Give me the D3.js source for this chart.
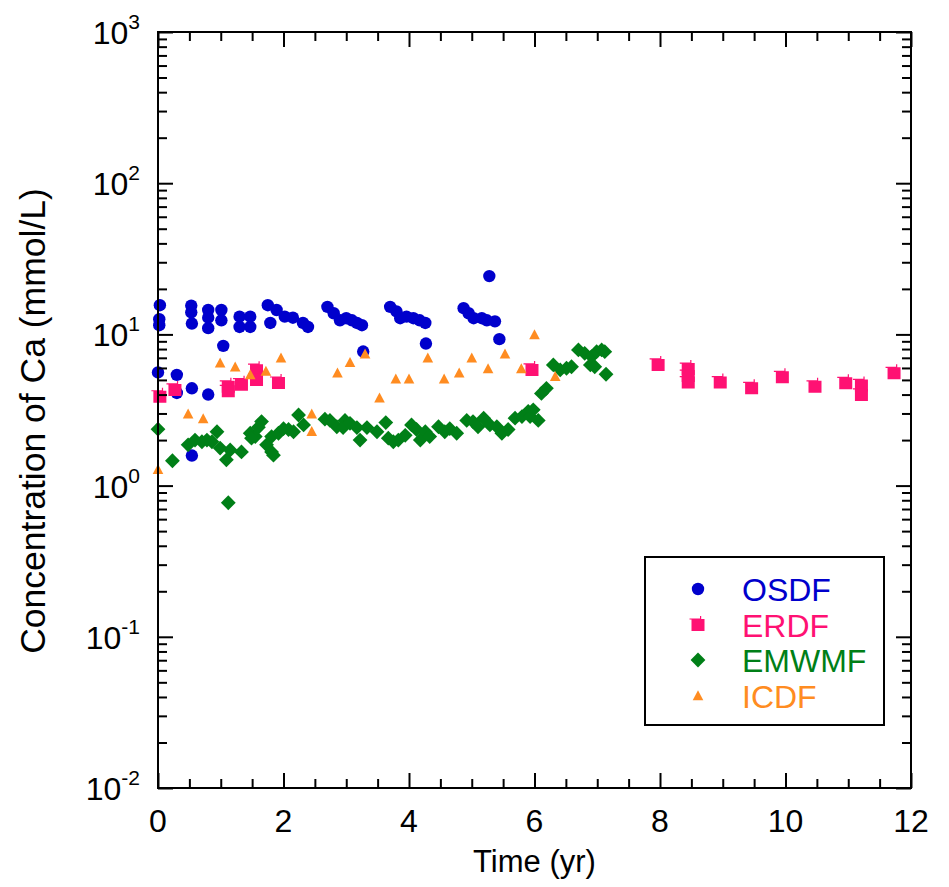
<!DOCTYPE html>
<html>
<head>
<meta charset="utf-8">
<script src="https://cdn.jsdelivr.net/npm/d3@7"></script>
<style>
  html, body { margin: 0; padding: 0; background: #ffffff; }
  svg { display: block; font-family: Arial, "Liberation Sans", Helvetica, sans-serif; }
</style>
</head>
<body>
<svg id="chart" width="949" height="887"></svg>
<script>
// Ca concentration (mmol/L) versus time (yr) at four disposal facilities
const seriesNames = ["OSDF", "ERDF", "EMWMF", "ICDF"];
const seriesColors = ["#0000cc", "#ff1173", "#007f17", "#ff8c21"];

const osdf = [
  [0.03, 15.6], [0.02, 12.6], [0.02, 11.5], [0.0, 5.6],
  [0.53, 15.5], [0.53, 14.0], [0.54, 11.8], [0.3, 5.4], [0.3, 4.1], [0.54, 4.4], [0.8, 4.0], [0.54, 1.58],
  [0.8, 14.5], [0.8, 12.9], [0.8, 11.0],
  [1.01, 14.5], [1.01, 12.4], [1.04, 8.4],
  [1.3, 13.1], [1.3, 11.2], [1.47, 13.1], [1.47, 11.2],
  [1.75, 15.6], [1.79, 11.9], [1.89, 14.5], [2.02, 13.1], [2.15, 12.9], [2.31, 11.9], [2.39, 11.2],
  [2.7, 15.2], [2.8, 13.8], [2.9, 12.4], [3.0, 12.8], [3.09, 12.4], [3.17, 11.9], [3.25, 11.5], [3.27, 7.7],
  [3.7, 15.2], [3.8, 14.2], [3.86, 12.8], [3.96, 13.1], [4.07, 12.8], [4.17, 12.4], [4.26, 11.9], [4.27, 8.7],
  [4.87, 14.9], [4.95, 13.8], [5.03, 12.8], [5.16, 12.8], [5.24, 12.4], [5.37, 12.2], [5.28, 24.3], [5.44, 9.3]
];

const erdf = [
  [0.03, 3.87], [0.27, 4.29], [1.12, 4.5], [1.12, 4.2], [1.33, 4.65], [1.57, 5.8], [1.57, 5.0], [1.92, 4.77],
  [5.96, 5.82], [7.97, 6.28], [8.45, 5.9], [8.45, 5.3], [8.45, 4.8], [8.96, 4.8], [9.46, 4.4],
  [9.95, 5.2], [10.47, 4.5], [10.96, 4.75], [11.21, 4.6], [11.21, 3.98], [11.73, 5.53]
];

const emwmf = [
  [0.0, 2.36], [0.23, 1.46], [0.48, 1.86], [0.59, 2.0], [0.7, 1.95], [0.78, 2.0], [0.86, 1.95], [0.94, 2.27],
  [0.99, 1.77], [1.09, 1.48], [1.15, 1.72], [1.12, 0.77], [1.33, 1.67], [1.47, 2.22], [1.55, 2.11], [1.49, 2.06],
  [1.6, 2.43], [1.65, 2.65], [1.73, 1.86], [1.81, 1.67], [1.84, 1.59], [1.81, 2.11], [1.92, 2.22], [2.0, 2.38],
  [2.08, 2.35], [2.16, 2.27], [2.24, 2.93], [2.32, 2.52], [2.66, 2.75], [2.85, 2.45], [2.74, 2.7],
  [2.98, 2.7], [2.95, 2.42], [3.06, 2.58], [3.17, 2.42], [3.22, 2.0], [3.33, 2.42], [3.49, 2.27], [3.63, 2.61],
  [3.67, 2.06], [3.75, 1.95], [3.83, 2.0], [3.94, 2.15], [4.04, 2.52], [4.12, 2.35], [4.18, 2.0], [4.26, 2.27],
  [4.33, 2.11], [4.47, 2.45], [4.57, 2.27], [4.65, 2.38], [4.76, 2.22], [4.92, 2.7], [5.02, 2.65], [5.1, 2.45],
  [5.19, 2.79], [5.29, 2.52], [5.4, 2.45], [5.48, 2.22], [5.58, 2.35], [5.69, 2.79], [5.8, 2.86], [5.9, 3.1],
  [5.93, 2.86], [5.98, 3.17], [6.06, 2.7], [6.11, 4.07], [6.19, 4.4], [6.3, 6.28], [6.41, 5.82], [6.51, 5.97],
  [6.59, 6.11], [6.7, 7.89], [6.8, 7.5], [6.91, 7.13], [6.99, 7.69], [7.07, 7.89], [7.12, 7.69], [6.89, 6.28],
  [6.96, 6.11], [7.14, 5.45]
];

const icdf = [
  [0.0, 1.27], [0.48, 2.96], [0.72, 2.75], [0.99, 6.44], [1.23, 6.05], [1.47, 5.39], [1.72, 5.67], [1.96, 6.95],
  [2.45, 2.96], [2.45, 2.27], [2.86, 5.53], [3.06, 6.5], [3.3, 7.38], [3.53, 3.78], [3.79, 5.05], [4.0, 5.05],
  [4.3, 6.95], [4.56, 5.05], [4.8, 5.53], [5.0, 6.95], [5.26, 5.9], [5.53, 7.38], [5.79, 5.9], [6.0, 9.9], [6.33, 5.25]
];

const seriesData = [osdf, erdf, emwmf, icdf];

const xTicks = [0, 2, 4, 6, 8, 10, 12];
const yDecades = [-2, -1, 0, 1, 2, 3];

const svg = d3.select("#chart");
const plotLeft = 158, plotRight = 911, plotTop = 32, plotBottom = 788;

const x = d3.scaleLinear().domain([0, 12]).range([plotLeft, plotRight]);
const y = d3.scaleLog().domain([1e-2, 1e3]).range([plotBottom, plotTop]);

// marker shapes, centred on the origin
const markerPath = {
  OSDF: () => {
    const p = d3.path(); p.arc(0, 0, 6.2, 0, 2 * Math.PI); return p.toString();
  },
  ERDF: () =>
    "M-6.5,-6 H6.5 V6 H-6.5 Z " +
    "M-8.5,-6.6 H3 V-5.4 H-8.5 Z " +
    "M2,-9 H3.2 V-6 H2 Z",
  EMWMF: () => "M0,-7.4 L7.4,0 L0,7.4 L-7.4,0 Z",
  ICDF: () => "M0,-5.8 L5.3,4.2 L-5.3,4.2 Z"
};

// data points
seriesNames.forEach((name, i) => {
  svg.append("g")
    .attr("class", "series-" + name)
    .selectAll("path")
    .data(seriesData[i])
    .join("path")
    .attr("d", markerPath[name]())
    .attr("fill", seriesColors[i])
    .attr("transform", d => `translate(${x(d[0])},${y(d[1])})`);
});

// axes: ticks point inward on all four sides
const fmtNone = () => "";
const minorLogTicks = [];
for (let e = -2; e < 3; e++) for (let m = 2; m <= 9; m++) minorLogTicks.push(m * Math.pow(10, e));
const minorX = d3.range(0, 12.01, 0.5).filter(v => v % 2 !== 0);

function styleAxis(g) {
  g.select(".domain").remove();
  g.selectAll(".tick line").attr("stroke", "#000").attr("stroke-width", 2);
}

// bottom
svg.append("g").attr("transform", `translate(0,${plotBottom})`)
  .call(d3.axisTop(x).tickValues(xTicks).tickSize(15).tickFormat(fmtNone)).call(styleAxis);
svg.append("g").attr("transform", `translate(0,${plotBottom})`)
  .call(d3.axisTop(x).tickValues(minorX).tickSize(9).tickFormat(fmtNone)).call(styleAxis);
// top
svg.append("g").attr("transform", `translate(0,${plotTop})`)
  .call(d3.axisBottom(x).tickValues(xTicks).tickSize(15).tickFormat(fmtNone)).call(styleAxis);
svg.append("g").attr("transform", `translate(0,${plotTop})`)
  .call(d3.axisBottom(x).tickValues(minorX).tickSize(9).tickFormat(fmtNone)).call(styleAxis);
// left
const decadeVals = yDecades.map(e => Math.pow(10, e));
svg.append("g").attr("transform", `translate(${plotLeft},0)`)
  .call(d3.axisRight(y).tickValues(decadeVals).tickSize(15).tickFormat(fmtNone)).call(styleAxis);
svg.append("g").attr("transform", `translate(${plotLeft},0)`)
  .call(d3.axisRight(y).tickValues(minorLogTicks).tickSize(9).tickFormat(fmtNone)).call(styleAxis);
// right
svg.append("g").attr("transform", `translate(${plotRight},0)`)
  .call(d3.axisLeft(y).tickValues(decadeVals).tickSize(15).tickFormat(fmtNone)).call(styleAxis);
svg.append("g").attr("transform", `translate(${plotRight},0)`)
  .call(d3.axisLeft(y).tickValues(minorLogTicks).tickSize(9).tickFormat(fmtNone)).call(styleAxis);

// frame
svg.append("rect")
  .attr("x", plotLeft).attr("y", plotTop)
  .attr("width", plotRight - plotLeft).attr("height", plotBottom - plotTop)
  .attr("fill", "none").attr("stroke", "#000").attr("stroke-width", 2);

// x tick labels
svg.append("g").selectAll("text")
  .data(xTicks).join("text")
  .attr("x", d => x(d)).attr("y", 832)
  .attr("text-anchor", "middle")
  .attr("font-size", 32)
  .text(d => d);

// y tick labels as powers of ten
const yl = svg.append("g").selectAll("text")
  .data(yDecades).join("text")
  .attr("x", 140).attr("y", d => y(Math.pow(10, d)) + 12)
  .attr("text-anchor", "end")
  .attr("font-size", 32);
yl.append("tspan").text("10");
yl.append("tspan").attr("font-size", 21).attr("dy", -15).text(d => d);

// axis titles
svg.append("text")
  .attr("x", (plotLeft + plotRight) / 2).attr("y", 872)
  .attr("text-anchor", "middle").attr("font-size", 31)
  .text("Time (yr)");
svg.append("text")
  .attr("transform", "translate(45,421) rotate(-90)")
  .attr("text-anchor", "middle").attr("font-size", 35.5)
  .text("Concentration of Ca (mmol/L)");

// legend
const lg = svg.append("g");
lg.append("rect")
  .attr("x", 645).attr("y", 557).attr("width", 239).attr("height", 168)
  .attr("fill", "#fff").attr("stroke", "#000").attr("stroke-width", 2);
const legendRows = [589, 625, 660, 696];
seriesNames.forEach((name, i) => {
  lg.append("path")
    .attr("d", markerPath[name]())
    .attr("fill", seriesColors[i])
    .attr("transform", `translate(698,${legendRows[i]})`);
  lg.append("text")
    .attr("x", 742).attr("y", legendRows[i] + 12)
    .attr("font-size", 32)
    .attr("fill", seriesColors[i])
    .text(name);
});
</script>
</body>
</html>
